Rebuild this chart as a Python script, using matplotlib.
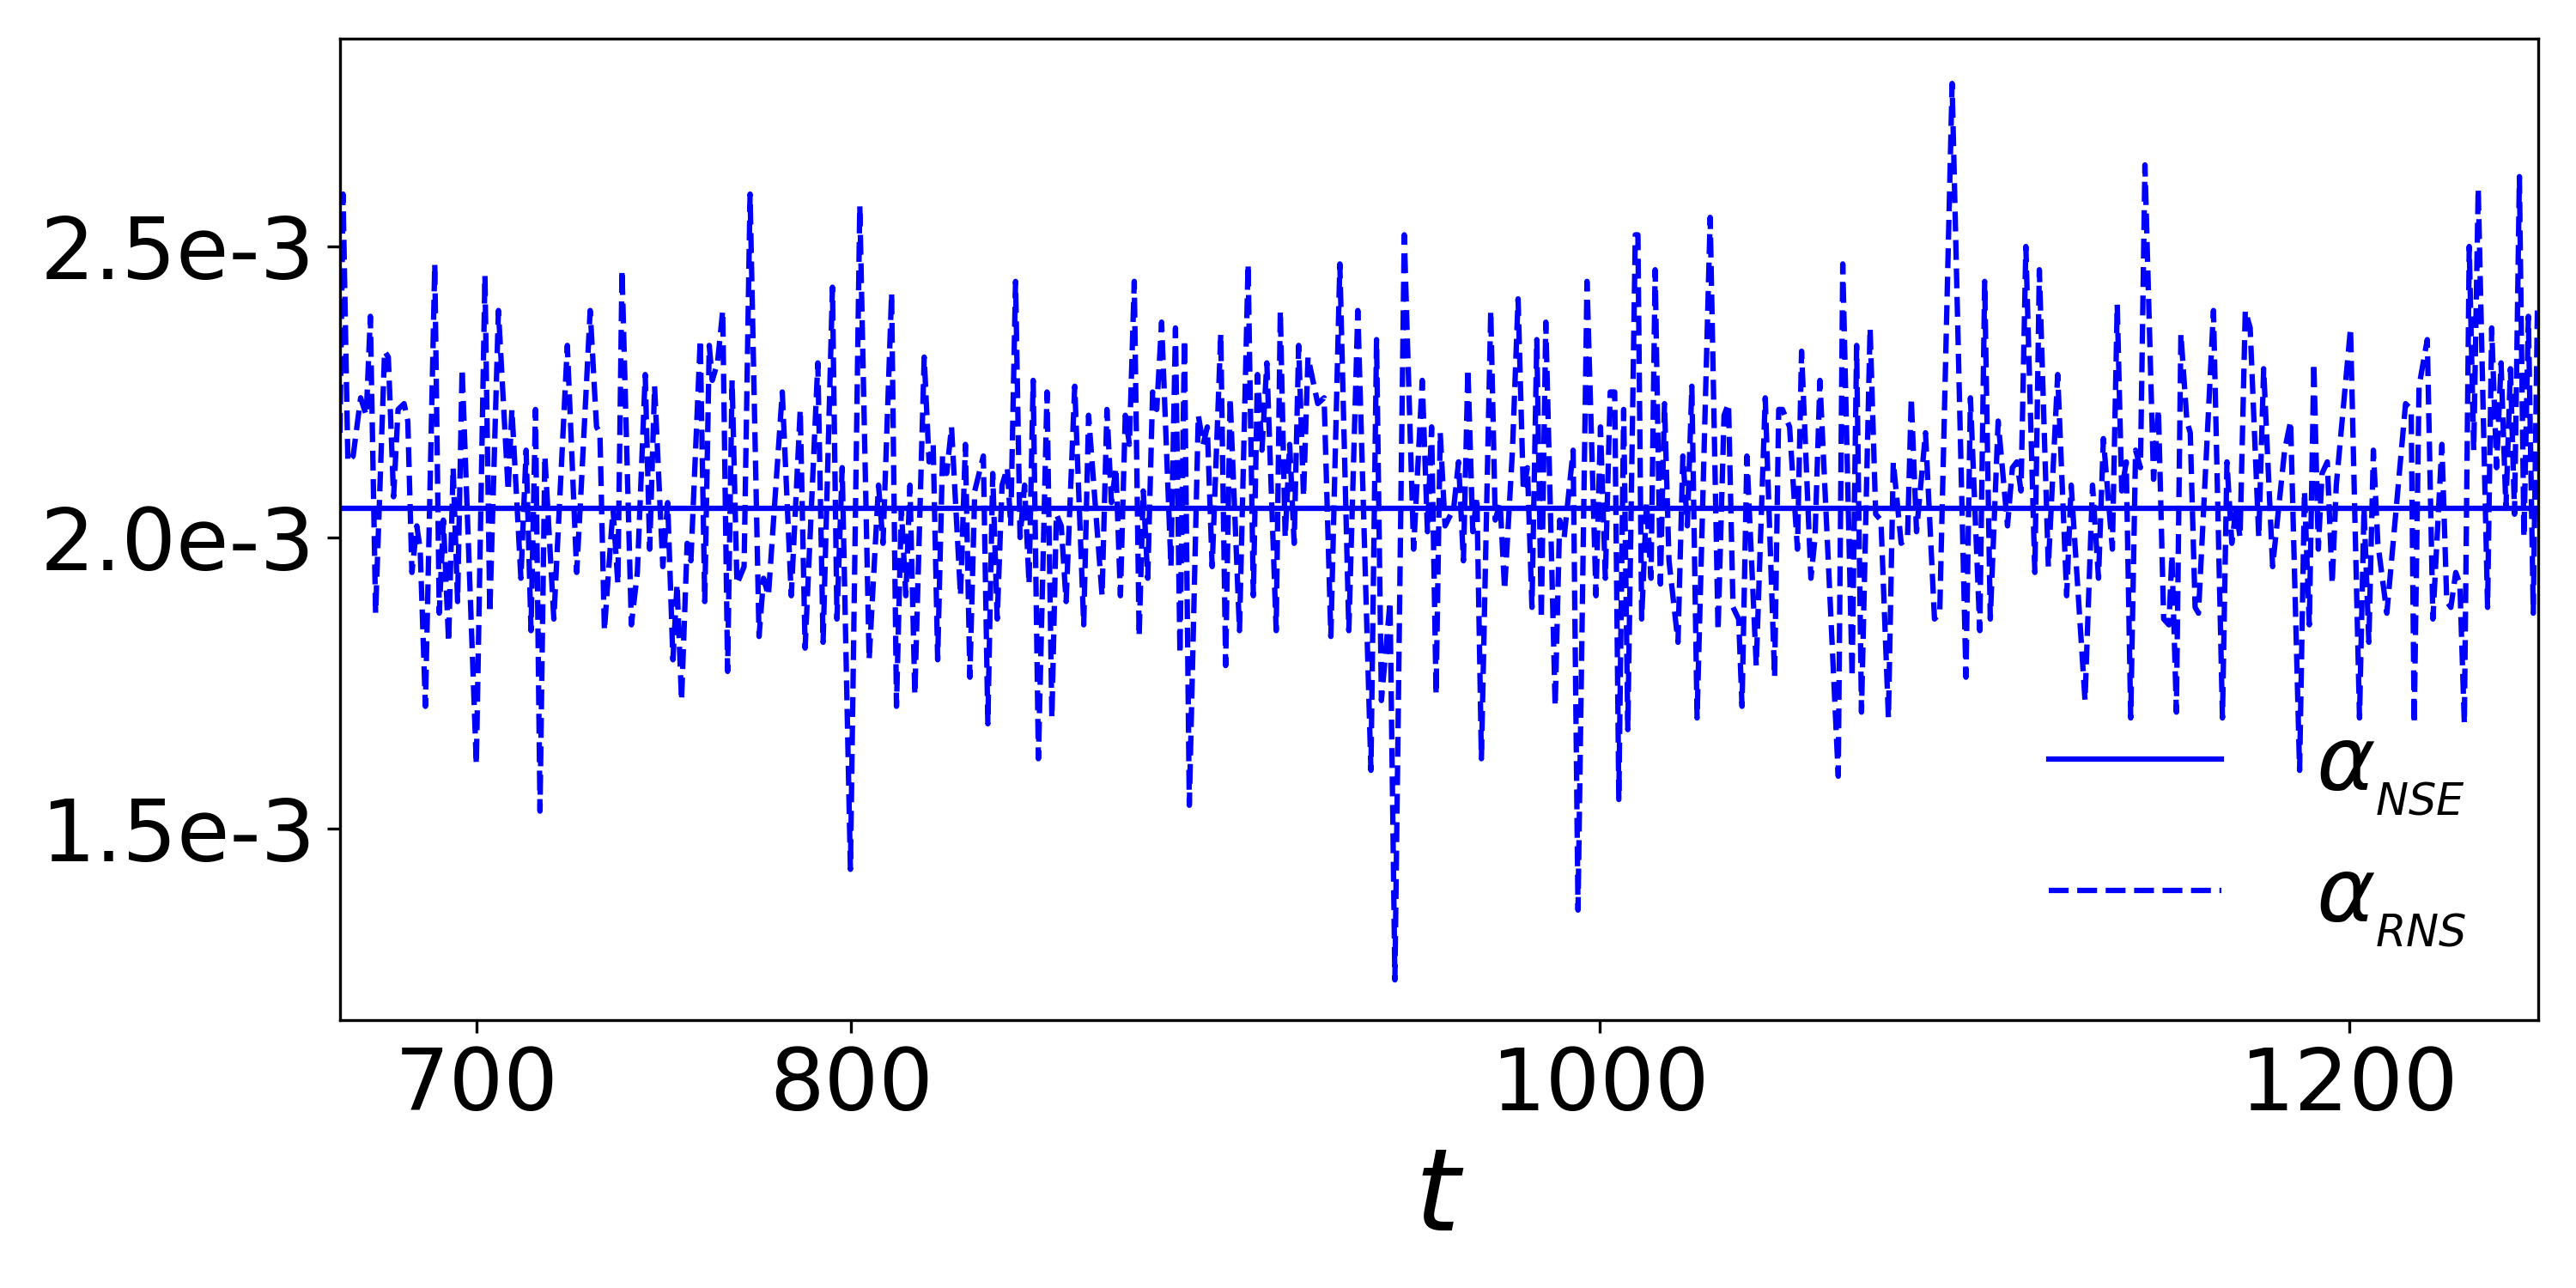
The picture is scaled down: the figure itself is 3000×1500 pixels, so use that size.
import matplotlib
matplotlib.use("Agg")
import matplotlib.pyplot as plt
import numpy as np

# alpha in units of 1e-3
t_a = [663.5,664.3,665.6,667.0,669.0,670.5,671.6,673.0,675.4,676.4,
       677.8,679.0,680.6,681.6,682.7,684.0,684.9,686.3,688.8,690.0,
       691.1,692.5,693.7,694.9,696.1,699.9,702.2,703.5,705.8,708.4,
       709.4,711.8,713.2,714.5,715.7,716.9,718.2,720.6,724.2,726.7,
       727.7,730.3,732.0,732.9,734.1,736.4,737.7,738.8,741.3,742.9,
       745.0,746.2,747.5,749.7,751.0,752.4,753.5,754.7,756.2,757.2,
       759.7,760.9,762.1,762.9,764.3,765.7,767.0,768.2,769.5,771.4,
       773.0,775.4,776.6,777.9,781.6,784.0,786.4,787.7,791.1,792.5,
       795.0,796.2,797.6,799.8,802.3,804.8,807.3,808.5]
a_a = [2.18,2.59,2.13,2.14,2.24,2.21,2.38,1.87,2.32,2.31,
       2.07,2.22,2.23,2.20,1.94,2.02,1.98,1.71,2.47,1.87,
       2.03,1.82,2.12,1.89,2.29,1.61,2.45,1.87,2.39,2.08,
       2.22,1.93,2.15,1.84,2.22,1.53,2.14,1.86,2.33,1.94,
       2.06,2.39,2.19,2.18,1.84,2.05,1.92,2.46,1.85,1.94,
       2.28,1.98,2.26,1.95,2.06,1.79,1.92,1.72,1.99,1.96,
       2.34,1.89,2.33,2.27,2.30,2.39,1.77,2.27,1.92,1.95,
       2.59,1.83,1.93,1.90,2.25,1.90,2.22,1.81,2.30,1.82,
       2.43,1.86,2.12,1.43,2.57,1.79,2.09,1.99]

t_b = [810.8,812.1,813.4,814.6,815.7,817.0,819.5,820.8,821.9,823.1,
       824.4,825.5,826.8,829.2,830.5,831.7,833.0,835.3,836.5,837.8,
       839.0,840.3,841.7,842.6,843.9,845.1,846.3,847.5,848.6,850.0,
       852.3,853.6,854.8,856.1,857.4,859.7,862.1,863.4,867.0,868.3,
       869.5,870.7,871.9,873.2,874.3,875.6,876.9,878.0,879.2,880.5,
       881.6,882.9,885.4,886.6,887.8,889.0,890.3,892.7,894.0,895.1,
       896.4,898.7,900.0,901.2,903.7,906.0,907.4,908.5,909.7,911.0,
       913.5,914.6,915.9,917.1,918.3,919.5,920.8,922.0,924.6,926.3,
       928.1,930.5,932.9,935.3,938.8,940.3,941.6,943.9,945.2,947.7,
       950.2,952.5,953.9,955.0,956.2]
a_b = [2.42,1.71,2.05,1.90,2.09,1.73,2.31,2.13,2.16,1.79,
       2.14,2.11,2.19,1.90,2.16,1.76,2.08,2.14,1.68,2.11,
       1.86,2.09,2.12,2.02,2.44,2.00,2.09,1.92,2.27,1.62,
       2.25,1.69,2.04,2.02,1.89,2.26,1.85,2.21,1.90,2.22,
       2.06,2.12,1.90,2.21,2.16,2.44,1.83,2.08,1.93,2.25,
       2.22,2.37,1.95,2.36,1.80,2.34,1.54,2.21,2.16,2.19,
       1.95,2.35,1.78,2.24,1.84,2.47,1.90,2.28,2.15,2.30,
       1.84,2.39,2.00,2.16,1.99,2.33,2.07,2.31,2.23,2.24,
       1.83,2.47,1.84,2.39,1.60,2.34,1.72,1.89,1.24,2.52,
       1.98,2.27,2.01,2.19,1.73]

t_c = [957.3,958.6,960.9,962.2,963.5,964.7,966.0,967.1,968.3,970.8,
       972.0,973.3,974.5,976.6,978.1,979.5,980.6,981.8,983.1,984.3,
       985.5,988.0,989.2,990.4,992.8,994.1,996.5,998.9,1000.1,1001.4,
       1002.7,1003.9,1005.0,1006.3,1007.4,1009.4,1010.1,1011.1,1012.4,1013.6,
       1014.7,1016.1,1017.2,1018.4,1020.8,1022.1,1023.3,1024.5,1025.9,1029.4,
       1031.5,1033.1,1034.3,1035.5,1037.0,1037.9,1039.2,1041.7,1044.1,1046.6,
       1047.7,1048.7,1050.6,1052.7,1053.8,1056.3,1057.4,1058.7,1063.6,1064.8,
       1067.3,1068.5,1069.8,1072.1,1073.6,1075.0,1077.0,1078.3,1080.4,1082.1,
       1083.1,1084.5,1086.9,1089.3,1090.7,1094.0,1097.7,1098.9,1101.4,1102.7]
a_c = [2.18,2.02,2.05,2.13,1.96,2.29,2.01,2.07,1.62,2.39,
       2.03,2.06,1.91,2.15,2.41,2.08,2.12,1.88,2.34,1.86,
       2.37,1.71,2.03,2.00,2.15,1.36,2.44,1.90,2.19,1.93,
       2.25,2.25,1.55,2.22,1.67,2.52,2.52,1.86,2.06,1.93,
       2.46,1.92,2.23,1.96,1.82,2.14,2.02,2.26,1.69,2.55,
       1.84,2.21,2.23,1.88,1.86,1.71,2.14,1.78,2.24,1.76,
       2.22,2.22,2.19,1.98,2.32,1.93,2.00,2.27,1.59,2.47,
       1.76,2.33,1.70,2.36,2.04,2.03,1.69,2.13,1.99,2.00,
       2.24,2.01,2.18,1.86,1.87,2.78,1.76,2.24,1.84,2.44]

t_d = [1104.2,1106.3,1108.8,1110.1,1111.3,1112.4,1113.7,1116.1,1117.3,1119.7,
       1122.2,1124.6,1125.8,1129.5,1131.5,1133.1,1134.4,1136.8,1138.1,1139.3,
       1140.5,1141.7,1143.0,1144.3,1145.5,1147.8,1149.1,1150.5,1151.9,1152.7,
       1153.9,1155.1,1156.7,1157.6,1158.9,1159.8,1163.8,1166.2,1167.4,1168.7,
       1169.8,1170.9,1172.3,1173.6,1175.9,1177.2,1179.6,1182.8,1184.4,1186.8,
       1188.1,1189.4,1190.6,1191.8,1192.8,1194.2,1195.5,1196.6,1200.4,1202.8,
       1204.0,1205.3,1206.5,1207.7,1210.1,1215.1,1216.6,1217.4,1218.7,1220.9,
       1222.4,1224.8,1226.1,1227.2,1228.5,1229.6,1230.8,1232.1,1233.3,1234.5,
       1237.0,1238.1,1239.4,1240.6,1241.9,1243.1,1244.2,1245.5,1246.7,1247.9,
       1249.2,1250.3]
a_d = [1.86,2.20,2.02,2.12,2.13,2.08,2.50,1.94,2.46,1.95,
       2.28,1.90,2.09,1.72,2.09,1.93,2.17,1.98,2.40,2.08,
       2.13,1.69,2.15,2.12,2.64,2.10,2.22,1.86,1.85,1.97,
       1.70,2.35,2.20,2.18,1.88,1.87,2.39,1.69,2.13,1.99,
       2.05,2.00,2.39,2.36,2.00,2.29,1.95,2.15,2.20,1.60,
       2.08,1.85,2.30,1.98,2.11,2.13,1.92,2.09,2.36,1.69,
       2.05,1.82,2.15,1.99,1.87,2.23,2.22,1.68,2.26,2.34,
       1.86,2.16,1.89,1.88,1.94,1.92,1.68,2.50,2.15,2.60,
       1.88,2.36,2.12,2.30,2.05,2.29,2.04,2.62,2.00,2.38,
       1.87,2.39]

alpha_nse = 2.05e-3
xticks = [700, 800, 1000, 1200]
yticks = [1.5e-3, 2.0e-3, 2.5e-3]
ylabels = ["1.5e-3", "2.0e-3", "2.5e-3"]

t_rns = np.array(t_a + t_b + t_c + t_d)
alpha_rns = np.array(a_a + a_b + a_c + a_d) * 1e-3

fig, ax = plt.subplots(figsize=(10, 5))
ax.axhline(alpha_nse, color="b", lw=1.5, label=r"$\alpha_{_{NSE}}$")
ax.plot(t_rns, alpha_rns, "b--", lw=1.5, label=r"$\alpha_{_{RNS}}$")

ax.set_xlim(663.5, 1250.5)
ax.set_ylim(1.171e-3, 2.857e-3)
ax.set_xticks(xticks)
ax.set_yticks(yticks)
ax.set_yticklabels(ylabels)
ax.tick_params(labelsize=24)
ax.set_xlabel(r"$t$", fontsize=32)
ax.legend(loc="lower right", fontsize=25, frameon=False, handlelength=1.93,
          handletextpad=1.05, labelspacing=0.4, borderaxespad=0.4)

fig.subplots_adjust(left=0.132, right=0.9853, top=0.97, bottom=0.208)
fig.savefig("out.png", dpi=300)
